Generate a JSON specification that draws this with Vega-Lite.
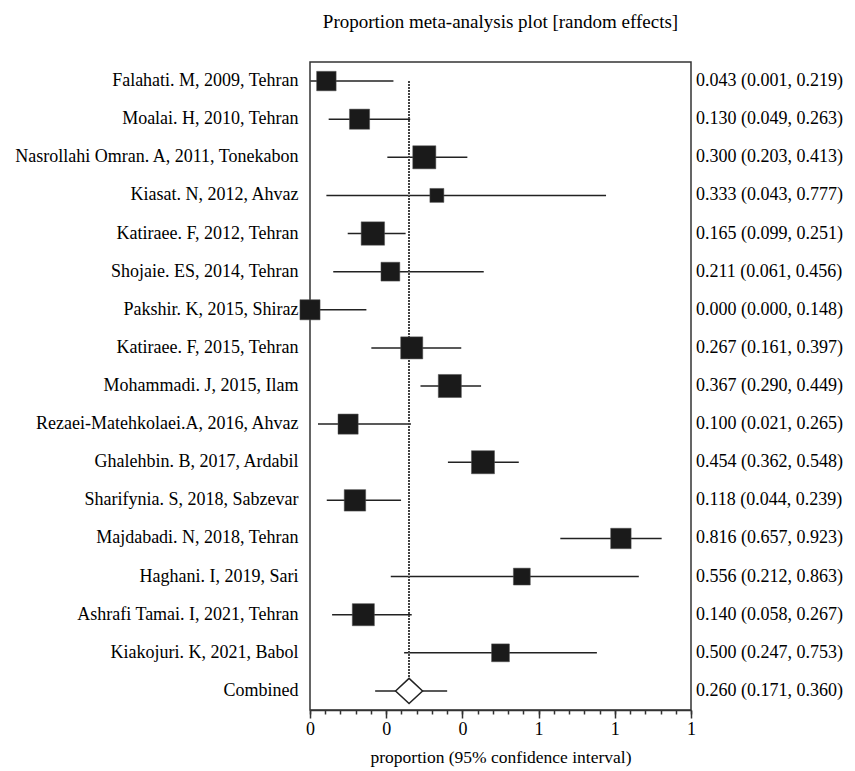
{
  "$schema": "https://vega.github.io/schema/vega-lite/v6.json",
  "width": 381,
  "height": 648,
  "autosize": "none",
  "padding": {"left": 310, "top": 62, "right": 164, "bottom": 61},
  "background": "white",
  "config": {
    "view": {"stroke": "#333", "strokeWidth": 1.5},
    "font": "Liberation Serif"
  },
  "title": {
    "text": "Proportion meta-analysis plot [random effects]",
    "font": "Liberation Serif",
    "fontSize": 19,
    "fontWeight": "normal",
    "color": "black",
    "anchor": "middle",
    "offset": 30
  },
  "data": {
    "values": [
      {"study": "Falahati. M, 2009, Tehran", "kind": "study", "est": 0.043, "lo": 0.001, "hi": 0.219, "weight": 6.0, "label": "0.043 (0.001, 0.219)"},
      {"study": "Moalai. H, 2010, Tehran", "kind": "study", "est": 0.130, "lo": 0.049, "hi": 0.263, "weight": 6.2, "label": "0.130 (0.049, 0.263)"},
      {"study": "Nasrollahi Omran. A, 2011, Tonekabon", "kind": "study", "est": 0.300, "lo": 0.203, "hi": 0.413, "weight": 7.1, "label": "0.300 (0.203, 0.413)"},
      {"study": "Kiasat. N, 2012, Ahvaz", "kind": "study", "est": 0.333, "lo": 0.043, "hi": 0.777, "weight": 4.3, "label": "0.333 (0.043, 0.777)"},
      {"study": "Katiraee. F, 2012, Tehran", "kind": "study", "est": 0.165, "lo": 0.099, "hi": 0.251, "weight": 7.2, "label": "0.165 (0.099, 0.251)"},
      {"study": "Shojaie. ES, 2014, Tehran", "kind": "study", "est": 0.211, "lo": 0.061, "hi": 0.456, "weight": 5.8, "label": "0.211 (0.061, 0.456)"},
      {"study": "Pakshir. K, 2015, Shiraz", "kind": "study", "est": 0.000, "lo": 0.000, "hi": 0.148, "weight": 6.2, "label": "0.000 (0.000, 0.148)"},
      {"study": "Katiraee. F, 2015, Tehran", "kind": "study", "est": 0.267, "lo": 0.161, "hi": 0.397, "weight": 6.8, "label": "0.267 (0.161, 0.397)"},
      {"study": "Mohammadi. J, 2015, Ilam", "kind": "study", "est": 0.367, "lo": 0.290, "hi": 0.449, "weight": 7.1, "label": "0.367 (0.290, 0.449)"},
      {"study": "Rezaei-Matehkolaei.A, 2016, Ahvaz", "kind": "study", "est": 0.100, "lo": 0.021, "hi": 0.265, "weight": 6.2, "label": "0.100 (0.021, 0.265)"},
      {"study": "Ghalehbin. B, 2017, Ardabil", "kind": "study", "est": 0.454, "lo": 0.362, "hi": 0.548, "weight": 7.1, "label": "0.454 (0.362, 0.548)"},
      {"study": "Sharifynia. S, 2018, Sabzevar", "kind": "study", "est": 0.118, "lo": 0.044, "hi": 0.239, "weight": 6.6, "label": "0.118 (0.044, 0.239)"},
      {"study": "Majdabadi. N, 2018, Tehran", "kind": "study", "est": 0.816, "lo": 0.657, "hi": 0.923, "weight": 6.3, "label": "0.816 (0.657, 0.923)"},
      {"study": "Haghani. I, 2019, Sari", "kind": "study", "est": 0.556, "lo": 0.212, "hi": 0.863, "weight": 5.2, "label": "0.556 (0.212, 0.863)"},
      {"study": "Ashrafi Tamai. I, 2021, Tehran", "kind": "study", "est": 0.140, "lo": 0.058, "hi": 0.267, "weight": 6.8, "label": "0.140 (0.058, 0.267)"},
      {"study": "Kiakojuri. K, 2021, Babol", "kind": "study", "est": 0.500, "lo": 0.247, "hi": 0.753, "weight": 5.5, "label": "0.500 (0.247, 0.753)"},
      {"study": "Combined", "kind": "combined", "est": 0.260, "lo": 0.171, "hi": 0.360, "weight": 100, "label": "0.260 (0.171, 0.360)"}
    ]
  },
  "encoding": {
    "y": {
      "field": "study",
      "type": "nominal",
      "sort": null,
      "scale": {"paddingInner": 0, "paddingOuter": 0},
      "axis": {
        "title": null,
        "ticks": false,
        "domain": false,
        "grid": false,
        "labelFont": "Liberation Serif",
        "labelFontSize": 18,
        "labelColor": "black",
        "labelPadding": 12,
        "labelLimit": 0
      }
    }
  },
  "layer": [
    {
      "mark": {"type": "rule", "stroke": "#222", "strokeWidth": 1.5},
      "encoding": {
        "x": {
          "field": "lo",
          "type": "quantitative",
          "scale": {"domain": [0, 1], "nice": false, "zero": false},
          "axis": {
            "orient": "bottom",
            "values": [0, 0.2, 0.4, 0.6, 0.8, 1],
            "format": ".0f",
            "grid": false,
            "tickSize": 8,
            "tickColor": "#333",
            "tickWidth": 1.5,
            "domainColor": "#333",
            "domainWidth": 1.5,
            "labelFont": "Liberation Serif",
            "labelFontSize": 18,
            "labelColor": "black",
            "labelPadding": 2,
            "labelFlush": false,
            "labelOverlap": false,
            "title": "proportion (95% confidence interval)",
            "titleFont": "Liberation Serif",
            "titleFontSize": 17.5,
            "titleFontWeight": "normal",
            "titleColor": "black",
            "titlePadding": 10
          }
        },
        "x2": {"field": "hi"}
      }
    },
    {
      "mark": {"type": "rule", "stroke": "#444", "strokeWidth": 1.5, "strokeDash": [1.5, 1.5]},
      "encoding": {
        "x": {
          "datum": 0.26,
          "type": "quantitative",
          "scale": {"domain": [0, 1], "nice": false, "zero": false},
          "axis": {
            "orient": "bottom",
            "values": [0, 0.04, 0.08, 0.12, 0.16, 0.2, 0.24, 0.28, 0.32, 0.36, 0.4, 0.44, 0.48, 0.52, 0.56, 0.6, 0.64, 0.68, 0.72, 0.76, 0.8, 0.84, 0.88, 0.92, 0.96, 1],
            "grid": false,
            "domain": false,
            "labels": false,
            "tickSize": 4,
            "tickColor": "#333",
            "tickWidth": 1.5,
            "title": null
          }
        },
        "y": {"datum": "Falahati. M, 2009, Tehran", "type": "nominal"},
        "y2": {"datum": "Combined"}
      }
    },
    {
      "transform": [{"filter": "datum.kind === 'study'"}],
      "mark": {"type": "point", "shape": "square", "filled": true, "fill": "#1a1a1a", "stroke": "#555", "strokeWidth": 0.5, "opacity": 1},
      "encoding": {
        "x": {"field": "est", "type": "quantitative", "scale": {"domain": [0, 1], "nice": false, "zero": false}, "axis": null},
        "size": {"field": "weight", "type": "quantitative", "scale": {"type": "pow", "exponent": 2, "domain": [0, 10], "range": [0, 1056]}, "legend": null}
      }
    },
    {
      "transform": [{"filter": "datum.kind === 'combined'"}],
      "mark": {"type": "point", "shape": "M -1 0 L 0 -0.93 L 1 0 L 0 0.93 Z", "size": 729, "filled": true, "fill": "white", "stroke": "#222", "strokeWidth": 1.5, "opacity": 1},
      "encoding": {
        "x": {"field": "est", "type": "quantitative", "scale": {"domain": [0, 1], "nice": false, "zero": false}, "axis": null}
      }
    },
    {
      "mark": {"type": "text", "align": "left", "baseline": "middle", "dx": 5, "font": "Liberation Serif", "fontSize": 18, "color": "black"},
      "encoding": {
        "x": {"datum": 1, "type": "quantitative", "scale": {"domain": [0, 1], "nice": false, "zero": false}, "axis": null},
        "text": {"field": "label"}
      }
    }
  ],
  "resolve": {"axis": {"x": "independent"}}
}
